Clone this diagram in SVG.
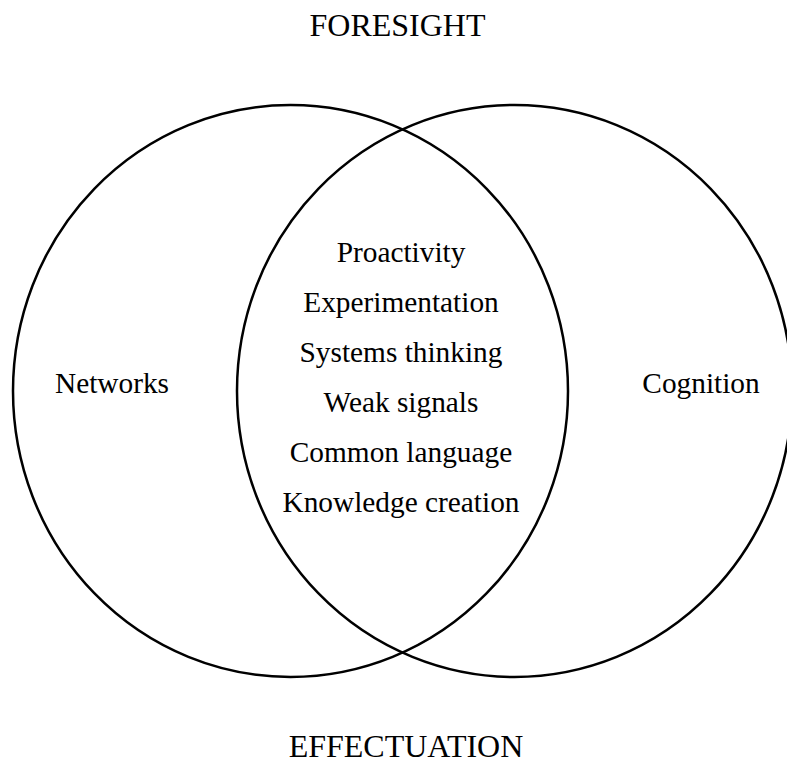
<svg xmlns="http://www.w3.org/2000/svg" width="787" height="763" viewBox="0 0 787 763">
  <style>
    .set { fill: none; stroke: #000; stroke-width: 2.5; }
    text { font-family: "Liberation Serif", "Times New Roman", serif; font-size: 29.33px; fill: #000; text-anchor: middle; }
    .title { font-size: 32px; }
  </style>
  <rect width="787" height="763" fill="#fff"/>
  <g id="title-top"><text class="title" x="397.5" y="36">FORESIGHT</text></g>
  <g id="networks">
    <ellipse class="set" cx="290.5" cy="391" rx="277.5" ry="286"/>
    <text x="112" y="393">Networks</text>
  </g>
  <g id="cognition">
    <ellipse class="set" cx="514.5" cy="391" rx="277.5" ry="286"/>
    <text x="701" y="393">Cognition</text>
  </g>
  <g id="overlap">
    <text x="401" y="262">Proactivity</text>
    <text x="401" y="312">Experimentation</text>
    <text x="401" y="362">Systems thinking</text>
    <text x="401" y="412">Weak signals</text>
    <text x="401" y="462">Common language</text>
    <text x="401" y="512">Knowledge creation</text>
  </g>
  <g id="title-bottom"><text class="title" x="406" y="757">EFFECTUATION</text></g>
  <g id="connectors"/>
</svg>
